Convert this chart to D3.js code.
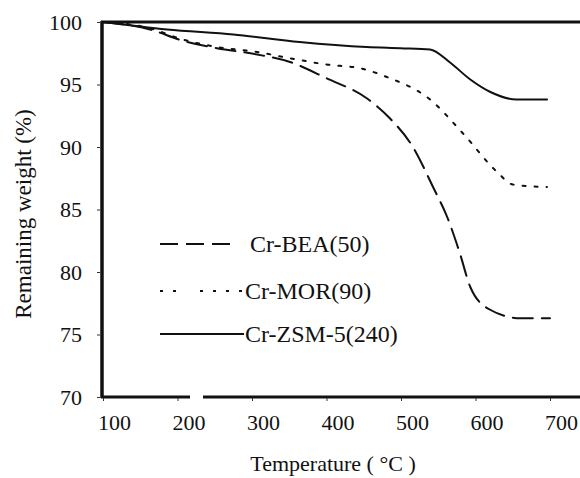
<!DOCTYPE html>
<html>
<head>
<meta charset="utf-8">
<script src="https://cdn.jsdelivr.net/npm/d3@7"></script>
<style>
  body { margin: 0; background: #fff; }
  svg text { font-family: "Liberation Serif", "DejaVu Serif", serif; fill: #111; }
</style>
</head>
<body>
<div id="chart"></div>
<script>
// TGA curves
var beaTemp = [100, 163, 207, 253, 307, 351, 400, 454, 485, 516, 543, 562, 579, 593, 619, 660, 700];
var beaWeight = [100, 99.4, 98.5, 97.9, 97.4, 96.8, 95.5, 93.9, 92.3, 90.0, 86.8, 84.4, 81.5, 78.8, 77.0, 76.3, 76.3];

var morTemp = [100, 163, 207, 253, 307, 351, 400, 445, 481, 539, 583, 629, 650, 696];
var morWeight = [100, 99.5, 98.6, 98.0, 97.6, 97.1, 96.6, 96.3, 95.6, 93.8, 91.1, 88.0, 87.0, 86.8];

var zsmTemp = [100, 186, 275, 364, 454, 499, 539, 565, 593, 620, 655, 696];
var zsmWeight = [100, 99.4, 99.0, 98.4, 98.0, 97.9, 97.8, 96.8, 95.4, 94.4, 93.8, 93.8];

var xTicks = [100, 200, 300, 400, 500, 600, 700];
var yTicks = [70, 75, 80, 85, 90, 95, 100];
var seriesNames = ["Cr-BEA(50)", "Cr-MOR(90)", "Cr-ZSM-5(240)"];

var width = 580, height = 478;
var serif = "'Liberation Serif', 'DejaVu Serif', serif";

var svg = d3.select("#chart").append("svg")
    .attr("width", width)
    .attr("height", height)
    .attr("font-family", serif);

var x = d3.scaleLinear().domain([100, 700]).range([103, 550]);
var y = d3.scaleLinear().domain([70, 100]).range([397, 22]);

function zip(ts, ws) {
  return ts.map(function(t, i) { return [t, ws[i]]; });
}

var series = [
  { name: seriesNames[0], data: zip(beaTemp, beaWeight), dash: "20,9" },
  { name: seriesNames[1], data: zip(morTemp, morWeight), dash: "3,9" },
  { name: seriesNames[2], data: zip(zsmTemp, zsmWeight), dash: null }
];

// frame (left, top, bottom with the little break in the scan)
svg.append("line").attr("x1", 102).attr("x2", 102).attr("y1", 21).attr("y2", 398)
  .attr("stroke", "#111").attr("stroke-width", 3.5);
svg.append("line").attr("x1", 101).attr("x2", 580).attr("y1", 22).attr("y2", 22)
  .attr("stroke", "#111").attr("stroke-width", 3);
svg.append("line").attr("x1", 101).attr("x2", 190).attr("y1", 397).attr("y2", 397)
  .attr("stroke", "#111").attr("stroke-width", 3);
svg.append("line").attr("x1", 203).attr("x2", 580).attr("y1", 397).attr("y2", 397)
  .attr("stroke", "#111").attr("stroke-width", 3);

// axes
var xAxis = svg.append("g")
  .attr("transform", "translate(0,398)")
  .call(d3.axisBottom(x).tickValues(xTicks).tickSize(3).tickPadding(13));
xAxis.attr("font-family", serif).attr("font-size", 22);
xAxis.select(".domain").remove();
xAxis.selectAll(".tick line").attr("stroke", "#333").attr("stroke-width", 1);
xAxis.selectAll(".tick text").attr("dx", 11);

var yAxis = svg.append("g")
  .attr("transform", "translate(100,0)")
  .call(d3.axisLeft(y).tickValues(yTicks).tickSize(3).tickPadding(15));
yAxis.attr("font-family", serif).attr("font-size", 22);
yAxis.select(".domain").remove();
yAxis.selectAll(".tick line").attr("stroke", "#333").attr("stroke-width", 1);

// curves
var line = d3.line()
  .x(function(d) { return x(d[0]); })
  .y(function(d) { return y(d[1]); })
  .curve(d3.curveMonotoneX);

svg.selectAll(".curve")
  .data(series)
  .enter()
  .append("path")
  .attr("class", "curve")
  .attr("d", function(d) { return line(d.data); })
  .attr("fill", "none")
  .attr("stroke", "#111")
  .attr("stroke-width", 2)
  .attr("stroke-linecap", "round")
  .attr("stroke-dasharray", function(d) { return d.dash; });

// legend
var legendY = [244, 291, 334];
var legendDash = ["18,8", "3,10,3,24,3,10,3,10,3,10", null];
var legend = svg.selectAll(".legend")
  .data(series)
  .enter()
  .append("g")
  .attr("class", "legend")
  .attr("transform", function(d, i) { return "translate(160," + legendY[i] + ")"; });

legend.append("line")
  .attr("x1", 0).attr("x2", function(d, i) { return i == 0 ? 78 : 84; })
  .attr("y1", 0).attr("y2", 0)
  .attr("stroke", "#111")
  .attr("stroke-width", 2)
  .attr("stroke-dasharray", function(d, i) { return legendDash[i]; });

legend.append("text")
  .attr("x", function(d, i) { return i == 0 ? 90 : 85; })
  .attr("y", 8)
  .style("font-size", "24px")
  .text(function(d) { return d.name; });

// axis titles
svg.append("text")
  .attr("transform", "translate(31,214) rotate(-90)")
  .attr("text-anchor", "middle")
  .style("font-size", "23px")
  .text("Remaining weight (%)");

svg.append("text")
  .attr("x", 333)
  .attr("y", 471)
  .attr("text-anchor", "middle")
  .style("font-size", "22px")
  .text("Temperature ( °C )");
</script>
</body>
</html>
